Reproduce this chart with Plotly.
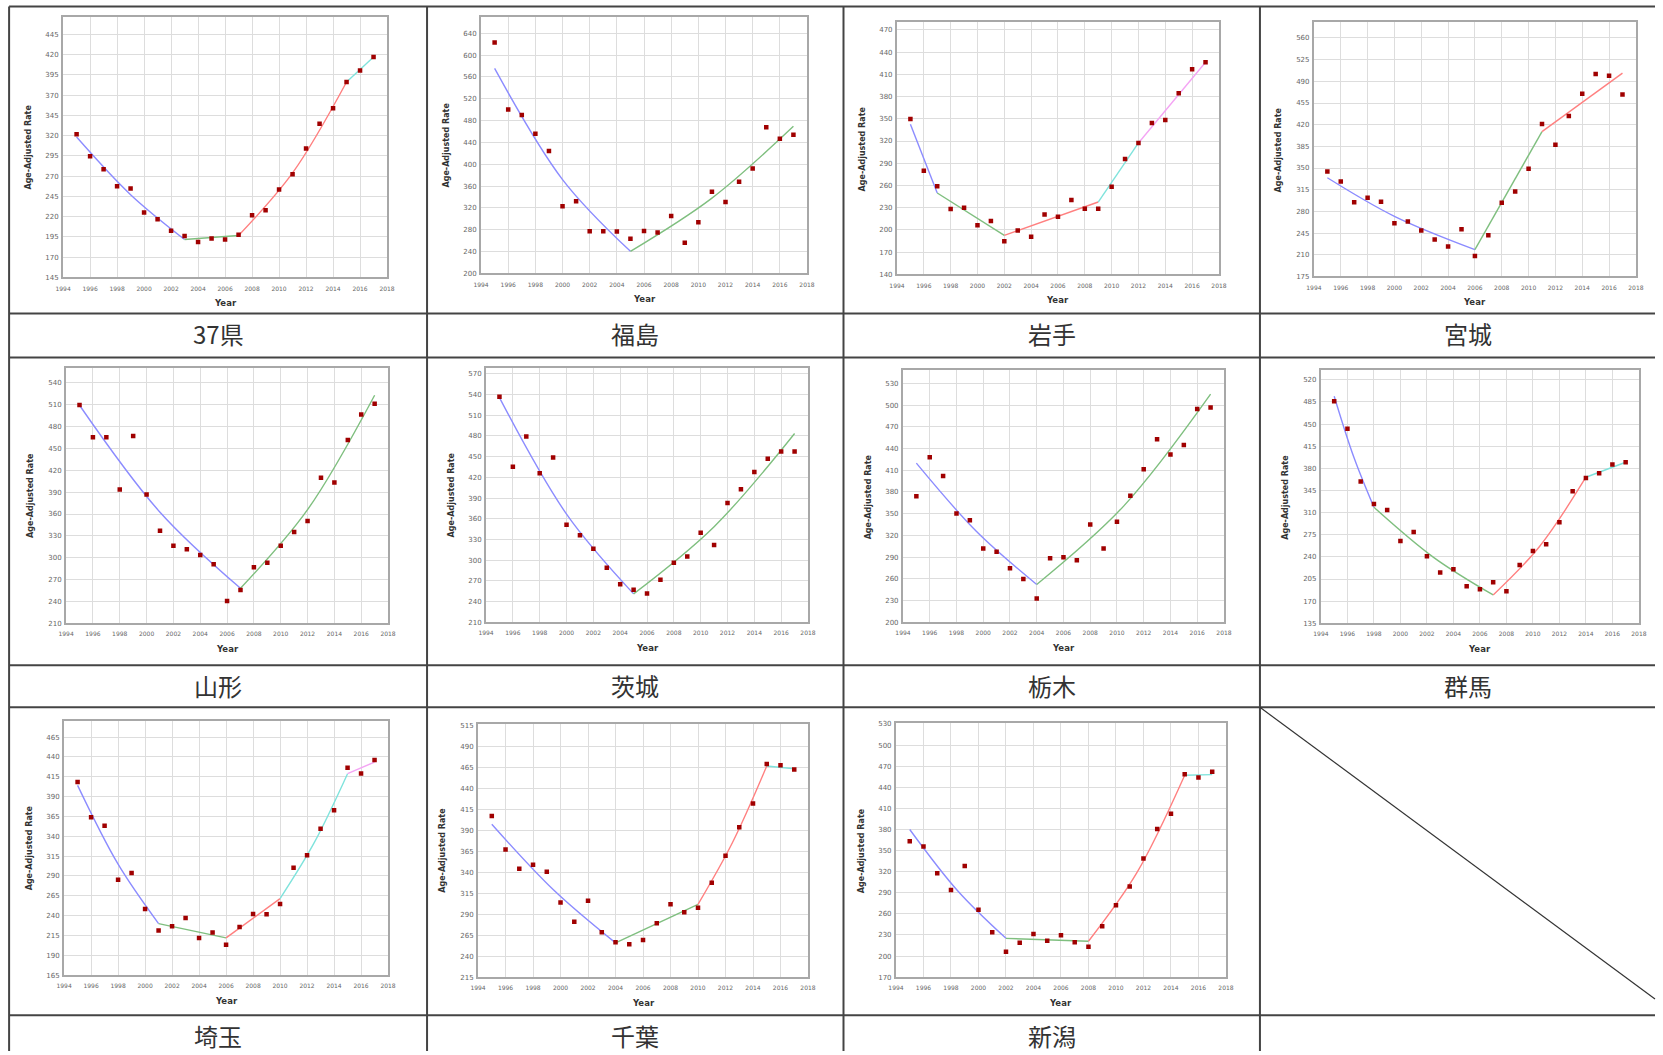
import plotly.graph_objects as go

W, H = 1663, 1055

years = list(range(1995, 2018))
names = ["37県", "福島", "岩手", "宮城", "山形", "茨城", "栃木", "群馬", "埼玉", "千葉", "新潟"]

rate_37 = [321.7, 294.6, 278.6, 257.6, 254.7, 225.1, 216.9, 202.5, 196.0, 188.6, 193.1, 191.9,
           197.6, 221.9, 228.0, 253.5, 272.4, 304.1, 334.9, 353.8, 386.3, 400.6, 417.1]
rate_fukushima = [623.4, 500.2, 490.4, 456.1, 424.3, 323.2, 332.4, 277.2, 277.2, 276.6, 263.7, 277.8,
                  274.8, 305.4, 256.4, 293.8, 349.5, 331.1, 367.9, 392.4, 467.8, 446.9, 454.3]
rate_iwate = [349.8, 280.0, 258.9, 228.2, 230.0, 206.2, 212.0, 184.6, 199.4, 190.9, 221.0, 217.9,
              240.4, 228.7, 228.7, 258.4, 295.8, 317.4, 344.4, 348.5, 384.5, 416.9, 426.4]
rate_miyagi = [344.5, 328.3, 294.9, 301.9, 295.4, 260.9, 263.6, 249.0, 234.4, 223.1, 251.2, 207.9,
               241.4, 293.8, 312.1, 348.9, 421.2, 387.7, 434.2, 469.8, 501.7, 499.0, 468.7]
rate_yamagata = [509.8, 465.5, 465.5, 393.7, 467.3, 386.9, 337.1, 316.5, 311.5, 303.7, 290.9, 240.6,
                 255.7, 286.8, 293.2, 316.5, 335.2, 350.3, 409.7, 403.3, 461.8, 496.6, 511.6]
rate_ibaraki = [537.0, 435.3, 479.4, 426.1, 448.9, 351.5, 336.0, 316.6, 289.0, 265.2, 257.0, 251.7,
                271.5, 296.2, 305.4, 339.8, 321.9, 383.0, 402.8, 428.0, 446.9, 457.6, 457.6]
rate_tochigi = [374.0, 428.1, 402.2, 350.4, 341.1, 301.8, 297.6, 274.5, 259.7, 232.9, 288.4, 289.8,
                285.6, 335.1, 301.8, 338.8, 374.9, 411.5, 452.7, 431.8, 444.8, 494.8, 496.6]
rate_gunma = [486.3, 442.5, 359.2, 323.8, 314.3, 265.3, 279.5, 241.0, 215.2, 220.4, 193.5, 188.8,
              199.9, 185.6, 227.3, 249.5, 260.0, 294.8, 343.9, 364.9, 372.3, 386.1, 389.7]
rate_saitama = [408.4, 363.9, 353.4, 285.4, 293.8, 248.5, 221.2, 226.7, 237.2, 212.0, 218.7, 203.2,
                225.8, 242.2, 241.8, 254.8, 300.5, 316.1, 349.6, 372.7, 426.4, 419.3, 436.1]
rate_chiba = [406.9, 367.0, 344.0, 348.8, 340.4, 304.0, 281.1, 306.0, 268.4, 256.6, 254.2, 259.3,
              279.1, 301.7, 292.2, 297.7, 327.4, 359.4, 393.5, 421.6, 468.7, 467.1, 462.3]
rate_niigata = [363.3, 355.7, 317.6, 293.8, 328.1, 265.7, 233.8, 206.2, 219.0, 231.4, 221.9, 229.5,
                219.5, 213.3, 242.4, 272.4, 299.0, 338.6, 380.5, 402.4, 458.6, 453.8, 461.9]

# fitted joinpoint segments: (year, fitted rate)
fit_37 = [[(1995, 318.4), (1999, 247.2), (2003, 191.9)], [(2003, 191.9), (2007, 196.8)],
          [(2007, 196.8), (2011, 274.0), (2015, 386.3)], [(2015, 386.3), (2017, 417.1)]]
fit_fukushima = [[(1995, 575.6), (2000, 372.0), (2005, 240.4)],
                 [(2005, 240.4), (2011, 338.0), (2017, 469.6)]]
fit_iwate = [[(1995, 342.6), (1997, 249.9)], [(1997, 249.9), (2002, 192.7)],
             [(2002, 192.7), (2009, 237.7)], [(2009, 237.7), (2012, 317.4)],
             [(2012, 317.4), (2017, 426.4)]]
fit_miyagi = [[(1995, 334.3), (2000, 272.0), (2006, 218.2)], [(2006, 218.2), (2011, 408.8)],
              [(2011, 408.8), (2017, 503.3)]]
fit_yamagata = [[(1995, 509.4), (2001, 362.5), (2007, 258.0)],
                [(2007, 258.0), (2012, 366.0), (2017, 523.1)]]
fit_ibaraki = [[(1995, 535.6), (2000, 366.8), (2005, 251.2)],
               [(2005, 251.2), (2011, 348.6), (2017, 483.7)]]
fit_tochigi = [[(1995, 419.8), (1999.5, 325.4), (2004, 252.3)],
               [(2004, 252.3), (2010.5, 360.5), (2017, 515.1)]]
fit_gunma = [[(1995, 494.2), (1996.5, 396.7), (1998, 318.5)], [(1998, 318.5), (2002.5, 239.3), (2007, 179.8)],
             [(2007, 179.8), (2010.5, 256.5), (2014, 366.0)], [(2014, 366.0), (2017, 389.7)]]
fit_saitama = [[(1995, 404.2), (1998, 304.9), (2001, 230.0)], [(2001, 230.0), (2006, 212.0)],
               [(2006, 212.0), (2010, 261.5)], [(2010, 261.5), (2012.5, 331.0), (2015, 418.9)],
               [(2015, 418.9), (2017, 433.6)]]
fit_chiba = [[(1995, 397.0), (1999.5, 318.7), (2004, 255.8)], [(2004, 255.8), (2010, 301.7)],
             [(2010, 301.7), (2012.5, 375.0), (2015, 466.3)], [(2015, 466.3), (2017, 463.1)]]
fit_niigata = [[(1995, 380.0), (1998.5, 292.5), (2002, 225.2)], [(2002, 225.2), (2008, 221.0)],
               [(2008, 221.0), (2011.5, 317.8), (2015, 457.1)], [(2015, 457.1), (2017, 458.0)]]

rates = [rate_37, rate_fukushima, rate_iwate, rate_miyagi, rate_yamagata, rate_ibaraki,
         rate_tochigi, rate_gunma, rate_saitama, rate_chiba, rate_niigata]
fits = [fit_37, fit_fukushima, fit_iwate, fit_miyagi, fit_yamagata, fit_ibaraki,
        fit_tochigi, fit_gunma, fit_saitama, fit_chiba, fit_niigata]

# y axis tick settings (first tick, step) and visible range
y_tick0 = [145, 200, 140, 175, 210, 210, 200, 135, 165, 215, 170]
y_step = [25, 40, 30, 35, 30, 30, 30, 35, 25, 25, 30]
y_top = [466, 669, 480, 585, 560, 578, 548, 535, 485, 516, 531]
x_ticks = list(range(1994, 2019, 2))

# ---- layout (target pixel geometry) ----
boxes = [(63, 17, 387, 277), (481, 17, 807, 273), (897, 22, 1219, 274), (1314, 22, 1636, 276),
         (66, 368, 388, 623), (486, 368, 808, 622), (903, 370, 1224, 622), (1321, 370, 1639, 623),
         (64, 721, 388, 975), (478, 724, 808, 977), (896, 723, 1226, 977)]
col_x = [9, 427, 843.5, 1260, 1677]
row_tops = [6, 357, 707]
row_div = [313, 665, 1015]
seg_colors = ["#8c8cff", "#7fbf7f", "#ff8080", "#7fe3dc", "#f4a4f4"]

# calibration of the capture (target pixel -> page pixel)
SX, OX = 0.9905, 7.9
SY, OY = 0.9937, 2.5


def px(x):
    return ((x - OX) / SX) / W


def py(y):
    return 1 - ((y - OY) / SY) / H


fig = go.Figure()
annotations = []
shapes = []

for i in range(len(names)):
    k = i + 1
    sx = "" if k == 1 else str(k)
    xa, ya = "x" + sx, "y" + sx
    for j, seg in enumerate(fits[i]):
        fig.add_trace(go.Scatter(x=[p[0] for p in seg], y=[p[1] for p in seg], mode="lines",
                                 line=dict(color=seg_colors[j], width=1.4, shape="spline"),
                                 xaxis=xa, yaxis=ya, showlegend=False, hoverinfo="skip"))
    fig.add_trace(go.Scatter(x=years, y=rates[i], mode="markers",
                             marker=dict(symbol="square", size=4.5, color="#a00000"),
                             xaxis=xa, yaxis=ya, showlegend=False))
    l, t, r, b = boxes[i]
    fig.layout["xaxis" + sx] = dict(
        domain=[px(l), px(r)], anchor=ya, range=[1994, 2018], tickmode="array",
        tickvals=x_ticks, ticktext=[str(v) for v in x_ticks],
        showgrid=True, gridcolor="#dddddd", gridwidth=1, zeroline=False,
        showline=True, mirror=True, linecolor="#a8a8a8", linewidth=2,
        ticks="outside", ticklen=4, tickcolor="rgba(0,0,0,0)",
        tickfont=dict(family="DejaVu Sans", size=6, color="#666666"))
    ticks_y = list(range(y_tick0[i], y_top[i] + 1, y_step[i]))
    fig.layout["yaxis" + sx] = dict(
        domain=[py(b), py(t)], anchor=xa, range=[y_tick0[i], y_top[i]], tickmode="array",
        tickvals=ticks_y, ticktext=[str(v) for v in ticks_y],
        showgrid=True, gridcolor="#dddddd", gridwidth=1, zeroline=False,
        showline=True, mirror=True, linecolor="#a8a8a8", linewidth=2,
        ticks="outside", ticklen=1, tickcolor="rgba(0,0,0,0)",
        tickfont=dict(family="DejaVu Sans", size=7, color="#666666"))
    annotations.append(dict(x=px((l + r) / 2), y=py(b + 26), xref="paper", yref="paper",
                            xanchor="center", yanchor="middle",
                            text="<b>Year</b>", showarrow=False,
                            font=dict(family="DejaVu Sans", size=8.5, color="#333333")))
    annotations.append(dict(x=px(l - 35), y=py((t + b) / 2), xref="paper", yref="paper",
                            xanchor="center", yanchor="middle",
                            text="<b>Age-Adjusted Rate</b>", showarrow=False, textangle=-90,
                            font=dict(family="DejaVu Sans", size=8, color="#333333")))
    ci, ri = i % 4, i // 4
    annotations.append(dict(x=px((col_x[ci] + col_x[ci + 1]) / 2), y=py(row_div[ri] + 20),
                            xref="paper", yref="paper", xanchor="center", yanchor="middle",
                            text=names[i], showarrow=False,
                            font=dict(family="Noto Sans CJK JP", size=24, color="#333333")))

line_style = dict(color="#444444", width=2)
for y in row_tops + row_div:
    shapes.append(dict(type="line", xref="paper", yref="paper", x0=px(col_x[0]), x1=1,
                       y0=py(y), y1=py(y), line=line_style))
for x in col_x[:4]:
    shapes.append(dict(type="line", xref="paper", yref="paper", x0=px(x), x1=px(x),
                       y0=py(row_tops[0]), y1=0, line=line_style))
# diagonal in the empty cell, clipped at the figure's right edge (slope kept)
x0p, y0p = px(col_x[3]), py(row_tops[2])
x1p, y1p = px(col_x[4]), py(row_div[2])
y_at_edge = y0p + (y1p - y0p) * (1 - x0p) / (x1p - x0p)
shapes.append(dict(type="line", xref="paper", yref="paper", x0=x0p, x1=1,
                   y0=y0p, y1=y_at_edge, line=dict(color="#333333", width=1.2)))

fig.update_layout(width=W, height=H, margin=dict(l=0, r=0, t=0, b=0),
                  paper_bgcolor="white", plot_bgcolor="white",
                  annotations=annotations, shapes=shapes)

fig.write_html("out.html", config={"displayModeBar": False},
               post_script="document.body.style.margin='0px';document.body.style.overflow='hidden';")
